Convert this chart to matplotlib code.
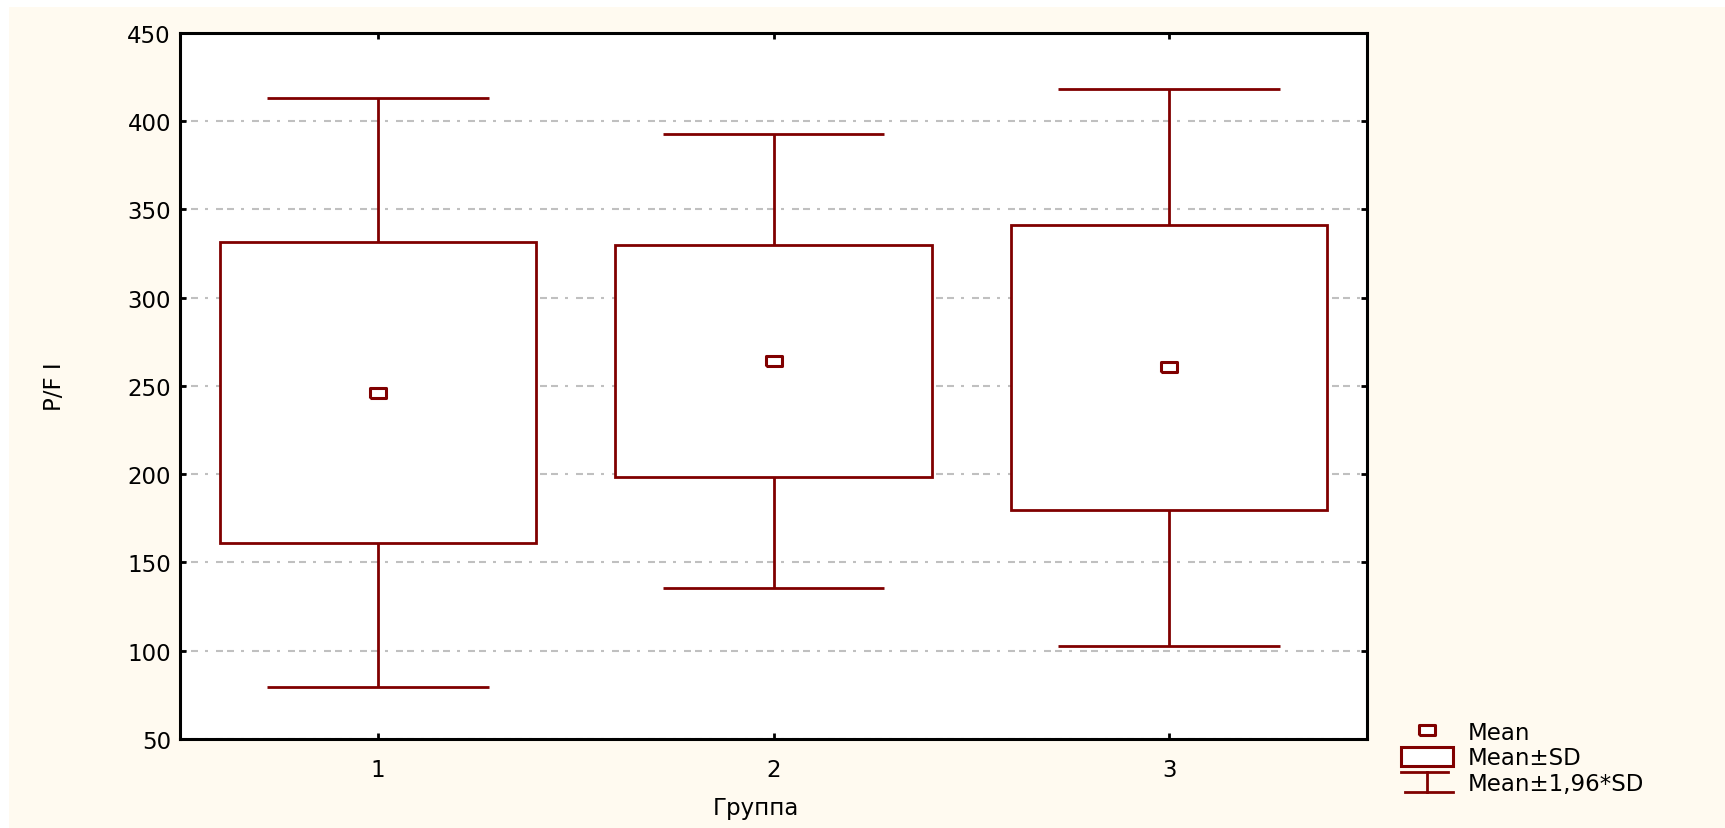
import numpy as np
import matplotlib.pyplot as plt
from matplotlib.lines import Line2D
from matplotlib.patches import Patch, Rectangle
from matplotlib.legend_handler import HandlerBase

# data
groups = ["1", "2", "3"]
means = [246.3, 264.2, 260.5]
sds = [85.1, 65.7, 80.6]
y_ticks = [50, 100, 150, 200, 250, 300, 350, 400, 450]
legend_labels = ["Mean", "Mean±SD", "Mean±1,96*SD"]

maroon = "#800000"
cream = "#FFFAF0"
fs = 16.5

plt.rcParams['font.family'] = ['DejaVu Sans']

x = np.arange(1, len(groups) + 1)
m = np.array(means)
s = np.array(sds)

fig = plt.figure(figsize=(17.25, 8.29), dpi=100, facecolor="white")
# cream background with a thin white border on top / left
fig.patches.append(Rectangle((9 / 1725, 0), 1, 1 - 8 / 829, transform=fig.transFigure,
                             facecolor=cream, edgecolor="none", zorder=-10))

ax = fig.add_axes([0.10435, 0.10736, 0.68812, 0.85163])
ax.set_facecolor("white")
ax.set_axisbelow(True)

# whiskers (mean +- 1.96 SD)
ax.vlines(x, m + s, m + 1.96 * s, color=maroon, lw=2, zorder=2)
ax.vlines(x, m - 1.96 * s, m - s, color=maroon, lw=2, zorder=2)
ax.hlines(m + 1.96 * s, x - 0.28, x + 0.28, color=maroon, lw=2, zorder=2)
ax.hlines(m - 1.96 * s, x - 0.28, x + 0.28, color=maroon, lw=2, zorder=2)

# boxes (mean +- SD)
ax.bar(x, 2 * s, bottom=m - s, width=0.8, facecolor="white", edgecolor=maroon,
       linewidth=2, zorder=3)

# mean markers
rect_marker = [(-1.5, -1), (1.5, -1), (1.5, 1), (-1.5, 1), (-1.5, -1)]
ax.plot(x, m, linestyle="none", marker=rect_marker, markersize=11,
        markerfacecolor="white", markeredgecolor=maroon, markeredgewidth=2.2, zorder=4)

ax.set_xlim(0.5, 3.5)
ax.set_ylim(50, 450)
ax.set_xticks(x, groups)
ax.set_yticks(y_ticks)
ax.yaxis.grid(True, color="#C0C0C0", linewidth=1.5,
              linestyle=(0, (3.36, 1.92, 3.36, 3.36, 1.44, 3.84)))

for sp in ax.spines.values():
    sp.set_linewidth(2.2)
    sp.set_color("black")

ax.tick_params(direction="in", length=4, width=2, top=True, right=True,
               labelsize=fs, colors="black")
ax.tick_params(axis="x", pad=13.5)
ax.tick_params(axis="y", pad=6.5)

ax.set_xlabel("Группа", fontsize=fs)
ax.xaxis.set_label_coords(0.485, -0.081)
ax.set_ylabel("P/F I", fontsize=fs)
ax.yaxis.set_label_coords(-0.096, 0.5)


class IBeamHandler(HandlerBase):
    def create_artists(self, legend, orig_handle, xdescent, ydescent,
                       width, height, fontsize, trans):
        x0, x1 = -xdescent, -xdescent + width
        xc = (x0 + x1) / 2
        y0, y1 = -ydescent, -ydescent + height
        arts = [Line2D([x0, x1 - 3], [y1, y1]),
                Line2D([xc, xc], [y0, y1]),
                Line2D([x0 + 3, x1], [y0, y0])]
        for a in arts:
            a.set_color(maroon)
            a.set_linewidth(2)
            a.set_transform(trans)
        return arts


mean_h = Line2D([], [], linestyle="none", marker=rect_marker, markersize=11,
                markerfacecolor="white", markeredgecolor=maroon, markeredgewidth=2.2)
box_h = Patch(facecolor="white", edgecolor=maroon, linewidth=2.2)
whisk_h = Line2D([], [], color=maroon)

fig.legend([mean_h, box_h, whisk_h], legend_labels,
           handler_map={whisk_h: IBeamHandler()},
           loc="upper left", bbox_to_anchor=(1401 / 1725, 1 - 722 / 829),
           frameon=False, fontsize=fs, borderpad=0, borderaxespad=0,
           handlelength=2.25, handleheight=0.95, handletextpad=0.65,
           labelspacing=0.1)

fig.savefig("out.png", dpi=100, facecolor=fig.get_facecolor())
